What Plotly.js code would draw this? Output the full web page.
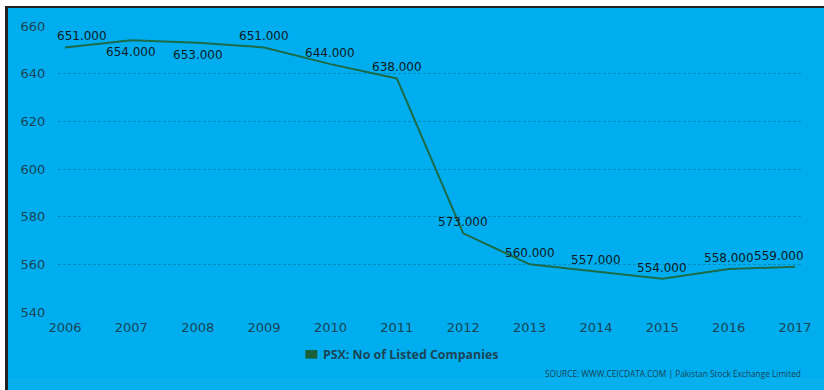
<!DOCTYPE html>
<html>
<head>
<meta charset="utf-8">
<script src="https://cdn.plot.ly/plotly-3.0.1.min.js"></script>
<style>
  html, body { margin: 0; padding: 0; background: #ffffff; }
  #bg { position: absolute; left: 5px; top: 6px; width: 819px; height: 384px;
        box-sizing: border-box; background: #00aeef;
        border-left: 3px solid #222222; border-top: 2px solid #222222; }
  #band { position: absolute; left: 8px; top: 378px; width: 816px; height: 12px; background: #08b1ee; }
  #chart { position: absolute; left: 0; top: 0; width: 824px; height: 390px; }
</style>
</head>
<body>
<div id="bg"></div>
<div id="band"></div>
<div id="chart"></div>
<script>
const years = [2006, 2007, 2008, 2009, 2010, 2011, 2012, 2013, 2014, 2015, 2016, 2017];
const listedCompanies = [651, 654, 653, 651, 644, 638, 573, 560, 557, 554, 558, 559];
const seriesName = 'PSX: No of Listed Companies';
const sourceText = 'SOURCE: WWW.CEICDATA.COM | Pakistan Stock Exchange Limited';
const yTicks = [540, 560, 580, 600, 620, 640, 660];

// label placement (style): 1 = above, -1 = below
const labelSide = [1, -1, -1, 1, 1, 1, 1, 1, 1, 1, 1, 1];

const lineColor = '#1b6a48';
const labelColor = '#0c1a22';
const tickColor = '#1a4556';

const trace = {
  x: years, y: listedCompanies, type: 'scatter', mode: 'lines',
  name: seriesName, showlegend: false,
  line: { color: lineColor, width: 2 },
  hoverinfo: 'x+y'
};

const annotations = years.map((yr, i) => {
  let xs = 0;
  if (i === 0) xs = 17;
  if (i === years.length - 1) xs = -16;
  return {
    x: yr, y: listedCompanies[i], xref: 'x', yref: 'y',
    text: listedCompanies[i].toFixed(3), showarrow: false,
    xanchor: 'center', yanchor: 'middle',
    xshift: xs, yshift: labelSide[i] > 0 ? 11 : -12,
    font: { family: 'DejaVu Sans', size: 12, color: labelColor }
  };
});

annotations.push({
  xref: 'paper', yref: 'paper', x: 0.353, y: -0.147,
  xanchor: 'left', yanchor: 'middle', showarrow: false,
  text: '<b>' + seriesName + '</b>',
  font: { family: 'Open Sans', size: 12.4, color: tickColor }
});
annotations.push({
  xref: 'paper', yref: 'paper', x: 1.0, y: -0.214,
  xanchor: 'right', yanchor: 'middle', showarrow: false,
  text: sourceText,
  font: { family: 'Open Sans', size: 8.3, color: tickColor }
});

const layout = {
  width: 824, height: 390,
  margin: { l: 58, r: 21, t: 26, b: 78, pad: 0 },
  paper_bgcolor: 'rgba(0,0,0,0)', plot_bgcolor: 'rgba(0,0,0,0)',
  showlegend: false,
  xaxis: {
    range: [2005.895, 2017.12], tickvals: years, ticktext: years.map(String),
    showgrid: false, zeroline: false, showline: false,
    ticks: 'outside', ticklen: 3, tickcolor: 'rgba(0,0,0,0)',
    tickfont: { family: 'DejaVu Sans', size: 13, color: tickColor }
  },
  yaxis: {
    range: [540, 660], tickvals: yTicks, ticktext: yTicks.map(String),
    showgrid: true, gridcolor: 'rgba(0,60,90,0.3)', gridwidth: 1, griddash: '3px,2px',
    zeroline: false, showline: false,
    ticks: 'outside', ticklen: 9, tickcolor: 'rgba(0,0,0,0)',
    tickfont: { family: 'DejaVu Sans', size: 13, color: tickColor }
  },
  shapes: [{
    type: 'rect', xref: 'paper', yref: 'paper',
    x0: 0.332, x1: 0.3481, y0: -0.133, y1: -0.163,
    fillcolor: '#1a5e3a', line: { width: 0 }
  }],
  annotations: annotations
};

Plotly.newPlot('chart', [trace], layout, { displayModeBar: false, staticPlot: true });
</script>
</body>
</html>
